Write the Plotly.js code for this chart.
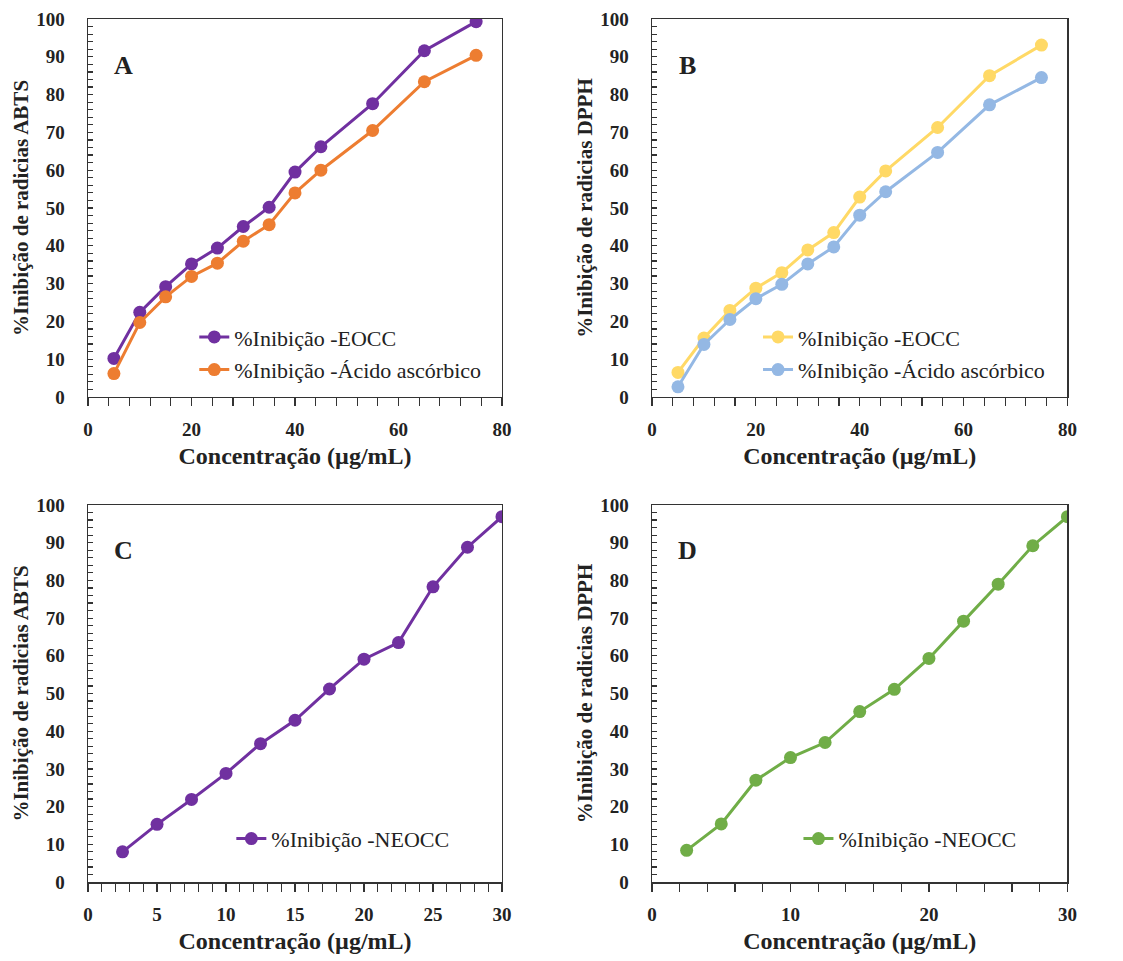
<!DOCTYPE html>
<html>
<head>
<meta charset="utf-8">
<script src="https://cdn.plot.ly/plotly-3.0.1.min.js"></script>
<style>html,body{margin:0;padding:0;background:#fff;}#chart{width:1123px;height:961px;}</style>
</head>
<body>
<div id="chart"></div>
<script>
// ---- Data ----
const concAB = [5, 10, 15, 20, 25, 30, 35, 40, 45, 55, 65, 75];
const abtsEOCC = [10.2, 22.4, 29.2, 35.2, 39.4, 45.1, 50.2, 59.5, 66.2, 77.6, 91.6, 99.3];
const abtsAscorbic = [6.2, 19.7, 26.5, 31.9, 35.4, 41.2, 45.6, 54.0, 60.0, 70.5, 83.4, 90.4];
const dpphEOCC = [6.5, 15.6, 22.9, 28.8, 32.9, 38.9, 43.5, 52.9, 59.8, 71.3, 85.0, 93.1];
const dpphAscorbic = [2.7, 13.9, 20.5, 26.0, 29.8, 35.2, 39.7, 48.1, 54.3, 64.7, 77.3, 84.5];
const concCD = [2.5, 5, 7.5, 10, 12.5, 15, 17.5, 20, 22.5, 25, 27.5, 30];
const abtsNEOCC = [8.0, 15.3, 21.9, 28.8, 36.7, 42.9, 51.2, 59.1, 63.5, 78.3, 88.8, 96.9];
const dpphNEOCC = [8.4, 15.4, 27.0, 33.0, 37.0, 45.2, 51.1, 59.3, 69.2, 79.0, 89.2, 96.9];

const nameEOCC = '%Inibição -EOCC';
const nameAsc = '%Inibição -Ácido ascórbico';
const nameNEOCC = '%Inibição -NEOCC';
const xTitle = 'Concentração (µg/mL)';
const yTitleABTS = '%Inibição de radicias ABTS';
const yTitleDPPH = '%Inibição de radicias DPPH';
const panelLabels = ['A', 'B', 'C', 'D'];

// ---- Styles ----
const FONT = 'Liberation Serif, Times New Roman, serif';
const purple = '#7030A0', orange = '#ED7D31', yellow = '#FFD966', blue = '#94B8E4', green = '#70AD47';

function tr(x, y, name, color, xa, ya, lg, grp) {
  return {
    x: x, y: y, name: name, type: 'scatter', mode: 'lines+markers',
    xaxis: xa, yaxis: ya, legend: lg, legendgroup: grp,
    line: {color: color, width: 3},
    marker: {color: color, size: 13}
  };
}

const data = [
  tr(concAB, abtsEOCC, nameEOCC, purple, 'x', 'y', 'legend', 'a1'),
  tr(concAB, abtsAscorbic, nameAsc, orange, 'x', 'y', 'legend', 'a2'),
  tr(concAB, dpphEOCC, nameEOCC, yellow, 'x2', 'y2', 'legend2', 'b1'),
  tr(concAB, dpphAscorbic, nameAsc, blue, 'x2', 'y2', 'legend2', 'b2'),
  tr(concCD, abtsNEOCC, nameNEOCC, purple, 'x3', 'y3', 'legend3', 'c1'),
  tr(concCD, dpphNEOCC, nameNEOCC, green, 'x4', 'y4', 'legend4', 'd1')
];

function xax(domain, anchor, range, dtick, minor) {
  return {
    domain: domain, anchor: anchor, range: range, dtick: dtick, tick0: 0,
    showline: true, linecolor: '#333', linewidth: 1.5, mirror: true,
    showgrid: false, zeroline: false,
    ticks: 'outside', ticklen: 8, tickwidth: 1.2, tickcolor: '#333',
    minor: {ticks: 'outside', dtick: minor, ticklen: 8, tickwidth: 1.2, tickcolor: '#333', showgrid: false},
    ticklabelstandoff: 7,
    tickfont: {family: FONT, size: 19, color: '#222', weight: 'bold'},
    title: {text: xTitle, font: {family: FONT, size: 24, color: '#222', weight: 'bold'}, standoff: 8}
  };
}
function yax(domain, anchor, title) {
  return {
    domain: domain, anchor: anchor, range: [0, 100], dtick: 10,
    showline: true, linecolor: '#333', linewidth: 1.5, mirror: true,
    showgrid: false, zeroline: false,
    ticks: 'inside', ticklen: 5, tickwidth: 1.2, tickcolor: '#333',
    minor: {ticks: 'inside', dtick: 2, ticklen: 5, tickwidth: 1.2, tickcolor: '#333', showgrid: false},
    ticklabelstandoff: 18,
    tickfont: {family: FONT, size: 19, color: '#222', weight: 'bold'},
    title: {text: title, font: {family: FONT, size: 21, color: '#222', weight: 'bold'}, standoff: 2}
  };
}

const xL = [0.0784, 0.447], xR = [0.5806, 0.9505];
const yT = [0.5869, 0.9802], yB = [0.0822, 0.4745];

function legendAt(x, y) {
  return {
    x: x, y: y, xanchor: 'left', yanchor: 'top', bgcolor: 'rgba(0,0,0,0)',
    font: {family: FONT, size: 22, color: '#222'},
    traceorder: 'grouped', tracegroupgap: 1, itemwidth: 30
  };
}

const annotations = [
  ['x domain', 'y domain'], ['x2 domain', 'y2 domain'], ['x3 domain', 'y3 domain'], ['x4 domain', 'y4 domain']
].map((r, i) => ({
  xref: r[0], yref: r[1], x: 0.085, y: 0.878, xanchor: 'center', yanchor: 'middle',
  text: panelLabels[i], showarrow: false,
  font: {family: FONT, size: 26, color: '#222', weight: 'bold'}
}));

const layout = {
  width: 1123, height: 961,
  margin: {l: 0, r: 0, t: 0, b: 0},
  paper_bgcolor: '#fff', plot_bgcolor: '#fff',
  showlegend: true,
  xaxis: xax(xL, 'y', [0, 80], 20, 4),
  yaxis: yax(yT, 'x', yTitleABTS),
  xaxis2: xax(xR, 'y2', [0, 80], 20, 4),
  yaxis2: yax(yT, 'x2', yTitleDPPH),
  xaxis3: xax(xL, 'y3', [0, 30], 5, 1),
  yaxis3: yax(yB, 'x3', yTitleABTS),
  xaxis4: xax(xR, 'y4', [0, 30], 10, 2),
  yaxis4: yax(yB, 'x4', yTitleDPPH),
  legend: legendAt(0.173, 0.671),
  legend2: legendAt(0.675, 0.671),
  legend3: legendAt(0.206, 0.149),
  legend4: legendAt(0.711, 0.149),
  annotations: annotations
};

Plotly.newPlot('chart', data, layout, {displayModeBar: false, staticPlot: true});
</script>
</body>
</html>
